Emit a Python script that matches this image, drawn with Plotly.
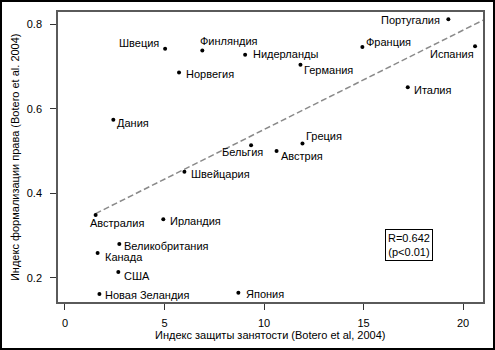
import plotly.graph_objects as go

# Country-level indices (Botero et al., 2004)
countries = ["Швеция", "Финляндия", "Нидерланды", "Норвегия", "Дания",
             "Португалия", "Франция", "Испания", "Германия", "Италия",
             "Греция", "Австрия", "Бельгия", "Швейцария", "Австралия",
             "Ирландия", "Великобритания", "Канада", "США",
             "Новая Зеландия", "Япония"]
employment_protection = [5.03, 6.90, 9.05, 5.73, 2.43,
                         19.26, 14.94, 20.60, 11.83, 17.22,
                         11.93, 10.63, 9.35, 6.00, 1.54,
                         4.94, 2.73, 1.64, 2.68,
                         1.73, 8.71]
legal_formalism = [0.742, 0.738, 0.728, 0.686, 0.574,
                   0.812, 0.746, 0.748, 0.704, 0.651,
                   0.518, 0.500, 0.514, 0.451, 0.349,
                   0.339, 0.280, 0.259, 0.214,
                   0.162, 0.165]

# Label placement: (xanchor, xshift, yshift) in pixels relative to each point
label_place = {
    "Швеция": ("right", -4, 6),
    "Финляндия": ("left", -4, 9),
    "Нидерланды": ("left", 6, 1),
    "Норвегия": ("left", 5, -2),
    "Дания": ("left", 2, -3),
    "Португалия": ("right", -6, -1),
    "Франция": ("left", 2, 5),
    "Испания": ("right", 1, -8),
    "Германия": ("left", 2, -5),
    "Италия": ("left", 4, -3),
    "Греция": ("left", 2, 7),
    "Австрия": ("left", 2, -5),
    "Бельгия": ("right", 14, -7),
    "Швейцария": ("left", 5, -2),
    "Австралия": ("left", -8, -8),
    "Ирландия": ("left", 5, -2),
    "Великобритания": ("left", 3, -2),
    "Канада": ("left", 5, -4),
    "США": ("left", 4, -4),
    "Новая Зеландия": ("left", 4, -1),
    "Япония": ("left", 6, -1),
}

# Regression line shown on the chart
fit_intercept = 0.316
fit_slope = 0.0235
fit_x_range = [1.54, 21.0]
stats_text = "R=0.642<br>(p<0.01)"
stats_pos = (17.26, 0.279)

x_ticks = [0, 5, 10, 15, 20]
y_ticks = [0.2, 0.4, 0.6, 0.8]
x_title = "Индекс защиты занятости (Botero et al, 2004)"
y_title = "Индекс формализации права (Botero et al. 2004)"

font_family = "Arial, Liberation Sans, sans-serif"

fig = go.Figure()

fit_y = [fit_intercept + fit_slope * v for v in fit_x_range]
fig.add_trace(go.Scatter(
    x=fit_x_range, y=fit_y, mode="lines",
    line=dict(color="#8a8a8a", width=1.5, dash="6px,3px"),
    hoverinfo="skip", showlegend=False,
))

fig.add_trace(go.Scatter(
    x=employment_protection, y=legal_formalism, mode="markers",
    marker=dict(color="black", size=4),
    text=countries, showlegend=False,
))

for name, xv, yv in zip(countries, employment_protection, legal_formalism):
    anchor, dx, dy = label_place[name]
    fig.add_annotation(
        x=xv, y=yv, text=name, showarrow=False,
        xanchor=anchor, yanchor="middle", xshift=dx, yshift=dy,
        font=dict(family=font_family, size=11, color="black"),
    )

fig.add_annotation(
    x=stats_pos[0], y=stats_pos[1], text=stats_text, showarrow=False,
    xanchor="center", yanchor="middle", align="center",
    bordercolor="black", borderwidth=1, borderpad=2, bgcolor="white",
    font=dict(family=font_family, size=11, color="black"),
)

# Axis titles
fig.add_annotation(
    xref="paper", yref="paper", x=-0.101, y=0.5, text=y_title,
    textangle=-90, showarrow=False, xanchor="center", yanchor="middle",
    font=dict(family=font_family, size=11, color="black"),
)
fig.add_annotation(
    xref="paper", yref="paper", x=0.5, y=-0.1138, text=x_title,
    showarrow=False, xanchor="center", yanchor="middle",
    font=dict(family=font_family, size=11, color="black"),
)

# Outer frame around the whole picture
fig.add_shape(
    type="rect", xref="paper", yref="paper",
    x0=-0.1341, x1=1.0259, y0=-0.1621, y1=1.0379,
    line=dict(color="black", width=2), layer="above",
)

axis_common = dict(
    showgrid=False, zeroline=False, showline=True, mirror=True,
    linecolor="#5a5a5a", linewidth=1.5, automargin=False,
    ticks="outside", ticklen=6, tickcolor="#333333", tickwidth=1,
    tickfont=dict(family=font_family, size=11, color="black"),
)

fig.update_xaxes(range=[-0.35, 21.0], tickvals=x_ticks,
                 ticktext=[str(v) for v in x_ticks], ticklabelstandoff=4,
                 **axis_common)
fig.update_yaxes(range=[0.143, 0.829], tickvals=y_ticks,
                 ticktext=[f"{v:.1f}" for v in y_ticks], ticklabelstandoff=6,
                 **axis_common)

fig.update_layout(
    width=495, height=350,
    margin=dict(l=58, r=12, t=12, b=48, autoexpand=False),
    paper_bgcolor="white", plot_bgcolor="white",
    showlegend=False,
)

fig.write_html("out.html")
